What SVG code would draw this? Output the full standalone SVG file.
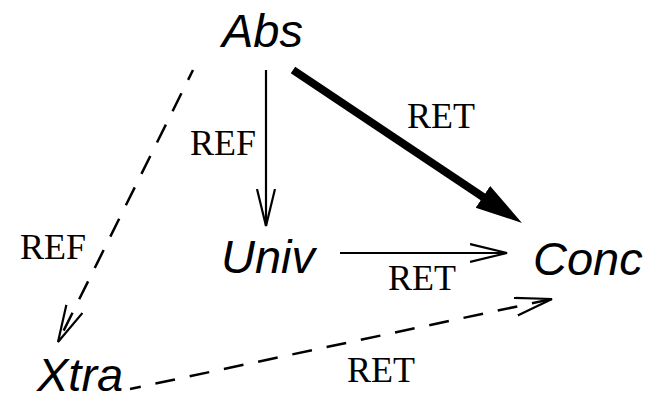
<svg xmlns="http://www.w3.org/2000/svg" width="653" height="400" viewBox="0 0 653 400">
  <style>
    .node { font-family: "Liberation Sans", Arial, sans-serif; font-style: italic; font-size: 47px; fill: #000; }
    .lbl { font-family: "Liberation Serif", "Times New Roman", serif; font-size: 36px; fill: #000; }
    .edge { fill: none; stroke: #000; stroke-width: 2.2; }
    .dashed { stroke-width: 2.5; stroke-dasharray: 20 15; stroke-dashoffset: 9; }
    .thick { fill: none; stroke: #000; stroke-width: 8; }
  </style>
  <defs>
    <marker id="open" markerUnits="userSpaceOnUse" markerWidth="40" markerHeight="22" viewBox="0 0 40 22" refX="37" refY="10" orient="auto">
      <path d="M0,1 L37,10 L0,19" fill="none" stroke="#000" stroke-width="2.2"/>
    </marker>
    <marker id="solid" markerUnits="userSpaceOnUse" markerWidth="47" markerHeight="28" viewBox="0 0 47 28" refX="22" refY="14" orient="auto">
      <path d="M0,1 L47,14 L0,27 Z" fill="#000"/>
    </marker>
  </defs>

  <g id="connectors">
    <line class="edge" x1="266" y1="70" x2="266" y2="226" marker-end="url(#open)"/>
    <line class="thick" x1="293" y1="70" x2="501.2" y2="209.1" marker-end="url(#solid)"/>
    <line class="edge" x1="340" y1="253" x2="507" y2="253" marker-end="url(#open)"/>
    <line class="edge dashed" x1="193" y1="70" x2="58" y2="342" marker-end="url(#open)"/>
    <line class="edge dashed" x1="130" y1="389" x2="552" y2="299" marker-end="url(#open)"/>
    <text class="lbl" x="190" y="155">REF</text>
    <text class="lbl" x="407" y="128">RET</text>
    <text class="lbl" x="388" y="290">RET</text>
    <text class="lbl" x="20" y="259">REF</text>
    <text class="lbl" x="347" y="382">RET</text>
  </g>

  <g id="node-abs"><text class="node" x="222" y="47">Abs</text></g>
  <g id="node-univ"><text class="node" x="221" y="273">Univ</text></g>
  <g id="node-conc"><text class="node" x="533" y="275">Conc</text></g>
  <g id="node-xtra"><text class="node" x="37" y="391">Xtra</text></g>
</svg>
